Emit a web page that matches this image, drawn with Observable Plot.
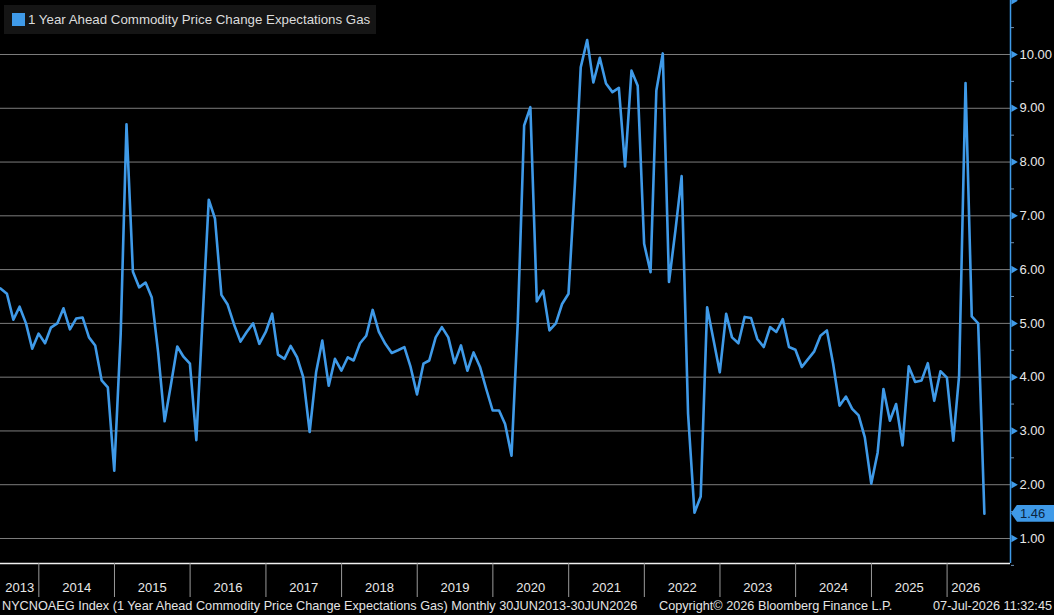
<!DOCTYPE html>
<html>
<head>
<meta charset="utf-8">
<script src="https://cdn.jsdelivr.net/npm/d3@7"></script>
<script src="https://cdn.jsdelivr.net/npm/@observablehq/plot@0.6"></script>
<style>
  html, body { margin: 0; padding: 0; background: #000; }
  body { width: 1054px; height: 615px; overflow: hidden; font-family: "Liberation Sans", Arial, sans-serif; }
  #wrap { position: relative; width: 1054px; height: 615px; }
  #legend { position: absolute; left: 4px; top: 5px; width: 372px; height: 29px; background: #151515; }
  #legend .sw { position: absolute; left: 8px; top: 8px; width: 13px; height: 13px; background: #3f9ae8; }
  #legend .lbl { position: absolute; left: 24px; top: 7px; font-size: 13.3px; color: #dcdcdc; white-space: nowrap; }
  #badge { position: absolute; left: 1011px; width: 43px; height: 17px; background: #3f9ae8;
           clip-path: polygon(6px 0, 100% 0, 100% 100%, 6px 100%, 0 50%);
           color: #0b2540; font-size: 13px; line-height: 17px; padding-left: 9px; box-sizing: border-box; }
  #footer { position: absolute; left: 0; top: 598px; width: 1054px; height: 17px; font-size: 12.7px; color: #e4e4e4; }
  #footer span { position: absolute; top: 1px; white-space: nowrap; }
</style>
</head>
<body>
<div id="wrap">
  <div id="chart"></div>
  <div id="legend"><div class="sw"></div><div class="lbl"></div></div>
  <div id="badge"></div>
  <div id="footer"></div>
</div>
<script>
// NY Fed SCE: 1 year ahead commodity price change expectations, gas (monthly, %)
const seriesName = "1 Year Ahead Commodity Price Change Expectations Gas";
const firstMonth = [2013, 5]; // June 2013 (year, zero-based month)
const values = [
  5.65, 5.55, 5.07, 5.31, 5.00, 4.53, 4.81,                                  // 2013 Jun-Dec
  4.63, 4.92, 5.00, 5.28, 4.89, 5.09, 5.11, 4.74, 4.59, 3.94, 3.81, 2.26,    // 2014
  4.80, 8.70, 5.96, 5.67, 5.76, 5.48, 4.45, 3.18, 3.85, 4.57, 4.38, 4.25,    // 2015
  2.83, 5.00, 7.30, 6.95, 5.53, 5.35, 4.98, 4.66, 4.84, 5.00, 4.62, 4.84,    // 2016
  5.18, 4.42, 4.34, 4.58, 4.37, 4.00, 2.98, 4.09, 4.68, 3.84, 4.34, 4.12,    // 2017
  4.37, 4.31, 4.63, 4.77, 5.25, 4.84, 4.62, 4.45, 4.50, 4.56, 4.19, 3.68,    // 2018
  4.25, 4.31, 4.74, 4.93, 4.74, 4.26, 4.59, 4.12, 4.46, 4.19, 3.78, 3.38,    // 2019
  3.38, 3.13, 2.54, 5.00, 8.68, 9.02, 5.41, 5.61, 4.87, 5.00, 5.36, 5.55,    // 2020
  7.60, 9.76, 10.27, 9.48, 9.94, 9.46, 9.30, 9.38, 7.92, 9.70, 9.42, 6.48,   // 2021
  5.95, 9.33, 10.02, 5.77, 6.73, 7.74, 3.32, 1.48, 1.78, 5.30, 4.71, 4.09,   // 2022
  5.18, 4.74, 4.63, 5.12, 5.10, 4.71, 4.56, 4.93, 4.84, 5.08, 4.56, 4.51,    // 2023
  4.19, 4.33, 4.48, 4.77, 4.87, 4.25, 3.47, 3.64, 3.41, 3.29, 2.88, 2.02,    // 2024
  2.60, 3.78, 3.19, 3.50, 2.73, 4.20, 3.91, 3.94, 4.26, 3.56, 4.11, 3.99,    // 2025
  2.82, 4.03, 9.47, 5.13, 5.00, 1.46                                         // 2026 Jan-Jun
];
const yearLabels = [2013, 2014, 2015, 2016, 2017, 2018, 2019, 2020, 2021, 2022, 2023, 2024, 2025, 2026];
const yLabelTicks = [1, 2, 3, 4, 5, 6, 7, 8, 9, 10];
const yArrowTicks = [1, 2, 3, 4, 5, 6, 7, 8, 9, 10, 11];
const yMinorTicks = [0.5, 1.5, 2.5, 3.5, 4.5, 5.5, 6.5, 7.5, 8.5, 9.5, 10.5];
const footerLeft = "NYCNOAEG Index (1 Year Ahead Commodity Price Change Expectations Gas) Monthly 30JUN2013-30JUN2026";
const footerMid = "Copyright\u00a9 2026 Bloomberg Finance L.P.";
const footerRight = "07-Jul-2026 11:32:45";

const BLUE = "#3f9ae8";

// month-end dates for each observation
const data = values.map((v, i) => ({
  date: new Date(Date.UTC(firstMonth[0], firstMonth[1] + i + 1, 0)),
  value: v
}));
const startDate = data[0].date;
const endDate = data[data.length - 1].date;
const xDomain = [startDate, new Date(Date.UTC(2026, 10, 3))];
const yDomain = [0.535, 11.004];

// year boundaries and the middle of each (clipped) year span for labels
const yearStarts = yearLabels.slice(1).map(y => new Date(Date.UTC(y, 0, 1)));
const yearMids = yearLabels.map(y => {
  const a = Math.max(+new Date(Date.UTC(y, 0, 1)), +startDate);
  const b = Math.min(+new Date(Date.UTC(y + 1, 0, 1)), +endDate);
  return new Date((a + b) / 2);
});

const chart = Plot.plot({
  width: 1054,
  height: 598,
  marginTop: 0,
  marginLeft: 0,
  marginRight: 44,
  marginBottom: 35,
  style: { background: "#000", color: "#e8e8e8", fontFamily: "'Liberation Sans', Arial, sans-serif", fontSize: "13px", overflow: "visible" },
  x: { type: "utc", domain: xDomain, label: null },
  y: { domain: yDomain, label: null },
  marks: [
    Plot.ruleY(yLabelTicks, { stroke: "#7d7d7d", strokeWidth: 1 }),
    Plot.ruleY([yDomain[0]], { stroke: "#f0f0f0", strokeWidth: 1.5 }),
    Plot.ruleX([xDomain[1]], { stroke: BLUE, strokeWidth: 1.5 }),
    Plot.axisX(yearStarts, { anchor: "bottom", label: null, tickSize: 34, tickFormat: () => "", stroke: "#9a9a9a" }),
    Plot.axisX(yearMids, { anchor: "bottom", label: null, tickSize: 0, tickPadding: 19, tickFormat: d => String(d.getUTCFullYear()), fill: "#e8e8e8", fontSize: 13 }),
    Plot.axisY(yMinorTicks, { anchor: "right", label: null, tickSize: 3, tickFormat: () => "", stroke: "#6f8fb0" }),
    Plot.axisY(yLabelTicks, { anchor: "right", label: null, tickSize: 0, tickPadding: 9, tickFormat: d3.format(".2f"), fill: "#e8e8e8", fontSize: 13 }),
    Plot.dot(yArrowTicks, { y: d => d, frameAnchor: "right", symbol: "triangle", rotate: 90, r: 2.8, fill: BLUE, stroke: "none", dx: 3 }),
    Plot.line(data, { x: "date", y: "value", stroke: BLUE, strokeWidth: 2.6, strokeLinejoin: "round", clip: true })
  ]
});
document.getElementById("chart").appendChild(chart);

// legend
document.querySelector("#legend .lbl").textContent = seriesName;

// last-value badge on the right axis
const last = data[data.length - 1];
const badge = document.getElementById("badge");
badge.textContent = d3.format(".2f")(last.value);
badge.style.top = (chart.scale("y").apply(last.value) - 8.5) + "px";

// footer line
const footer = document.getElementById("footer");
[[footerLeft, "left:2px"], [footerMid, "left:659px"], [footerRight, "right:2px"]].forEach(([t, pos]) => {
  const s = document.createElement("span");
  s.textContent = t;
  s.setAttribute("style", pos);
  footer.appendChild(s);
});
</script>
</body>
</html>
